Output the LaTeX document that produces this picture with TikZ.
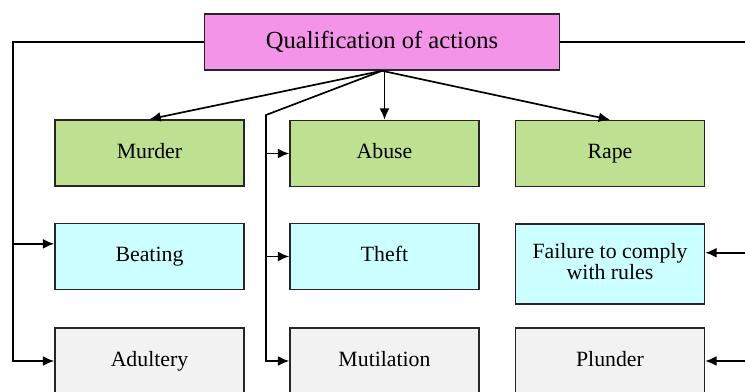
\documentclass[tikz,border=0pt]{standalone}
\usepackage{fontspec}
\setmainfont{Liberation Serif}
\usetikzlibrary{arrows.meta}
\usetikzlibrary{calc}
\usepackage{xcolor}

\definecolor{titlepink}{RGB}{243,148,232}
\definecolor{rowgreen}{RGB}{190,224,145}
\definecolor{rowcyan}{RGB}{204,255,255}
\definecolor{rowgrey}{RGB}{242,242,242}

\tikzset{
  actbox/.style={draw=black!85, line width=1.1pt, minimum width=4.725cm,
    minimum height=1.65cm, inner sep=0pt, align=center,
    font=\fontsize{15.5}{14}\selectfont,
    execute at begin node=\rule[-3.5pt]{0pt}{14pt}},
  link/.style={line width=1.2pt},
  arr/.style={link, -{Latex[length=8pt,width=7pt]}}
}

\begin{document}
\begin{tikzpicture}[x=0.025cm, y=-0.025cm]
        \clip (0,0) rectangle (745,391);
        \fill[white] (0,0) rectangle (745,391);
        % top box
        \node[actbox, fill=titlepink, minimum width=8.875cm, minimum height=1.4cm,
          font=\fontsize{17.5}{20}\selectfont] (qual) at (382,42) {Qualification of actions};
        % first row
        \node[actbox, fill=rowgreen] (murder) at (149.5,153) {Murder};
        \node[actbox, fill=rowgreen] (abuse) at (384.5,153.5) {Abuse};
        \node[actbox, fill=rowgreen] (rape) at (610,153.5) {Rape};
        % second row
        \node[actbox, fill=rowcyan] (beating) at (149.5,256.5) {Beating};
        \node[actbox, fill=rowcyan] (theft) at (384.5,256.5) {Theft};
        \node[actbox, fill=rowcyan, minimum height=2cm] (failure) at (610,264) {Failure to comply\\with rules};
        % third row
        \node[actbox, fill=rowgrey] (adultery) at (149.5,361) {Adultery};
        \node[actbox, fill=rowgrey] (mutilation) at (384.5,361) {Mutilation};
        \node[actbox, fill=rowgrey] (plunder) at (610,361) {Plunder};

        \coordinate (lx) at (13,0);
        \coordinate (rx) at (750,0);
        \coordinate (mtop) at (266,115);
        \coordinate (beatin) at ([yshift=9pt]beating.west);
        \coordinate (failin) at ([yshift=8pt]failure.east);

        % fan from the top box
        \draw[arr] (qual.south) -- (murder.north);
        \draw[arr] (abuse.north |- qual.south) -- (abuse.north);
        \draw[arr] (qual.south) -- (rape.north);
        % middle trunk
        \draw[arr] (qual.south) -- (mtop) |- (mutilation.west);
        \draw[arr] (mtop |- abuse.west) -- (abuse.west);
        \draw[arr] (mtop |- theft.west) -- (theft.west);
        % left trunk
        \draw[arr] (qual.west) -| (lx |- adultery.west) -- (adultery.west);
        \draw[arr] (lx |- beatin) -- (beatin);
        % right trunk
        \draw[arr] (qual.east) -| (rx |- plunder.east) -- (plunder.east);
        \draw[arr] (rx |- failin) -- (failin);
\end{tikzpicture}
\end{document}
